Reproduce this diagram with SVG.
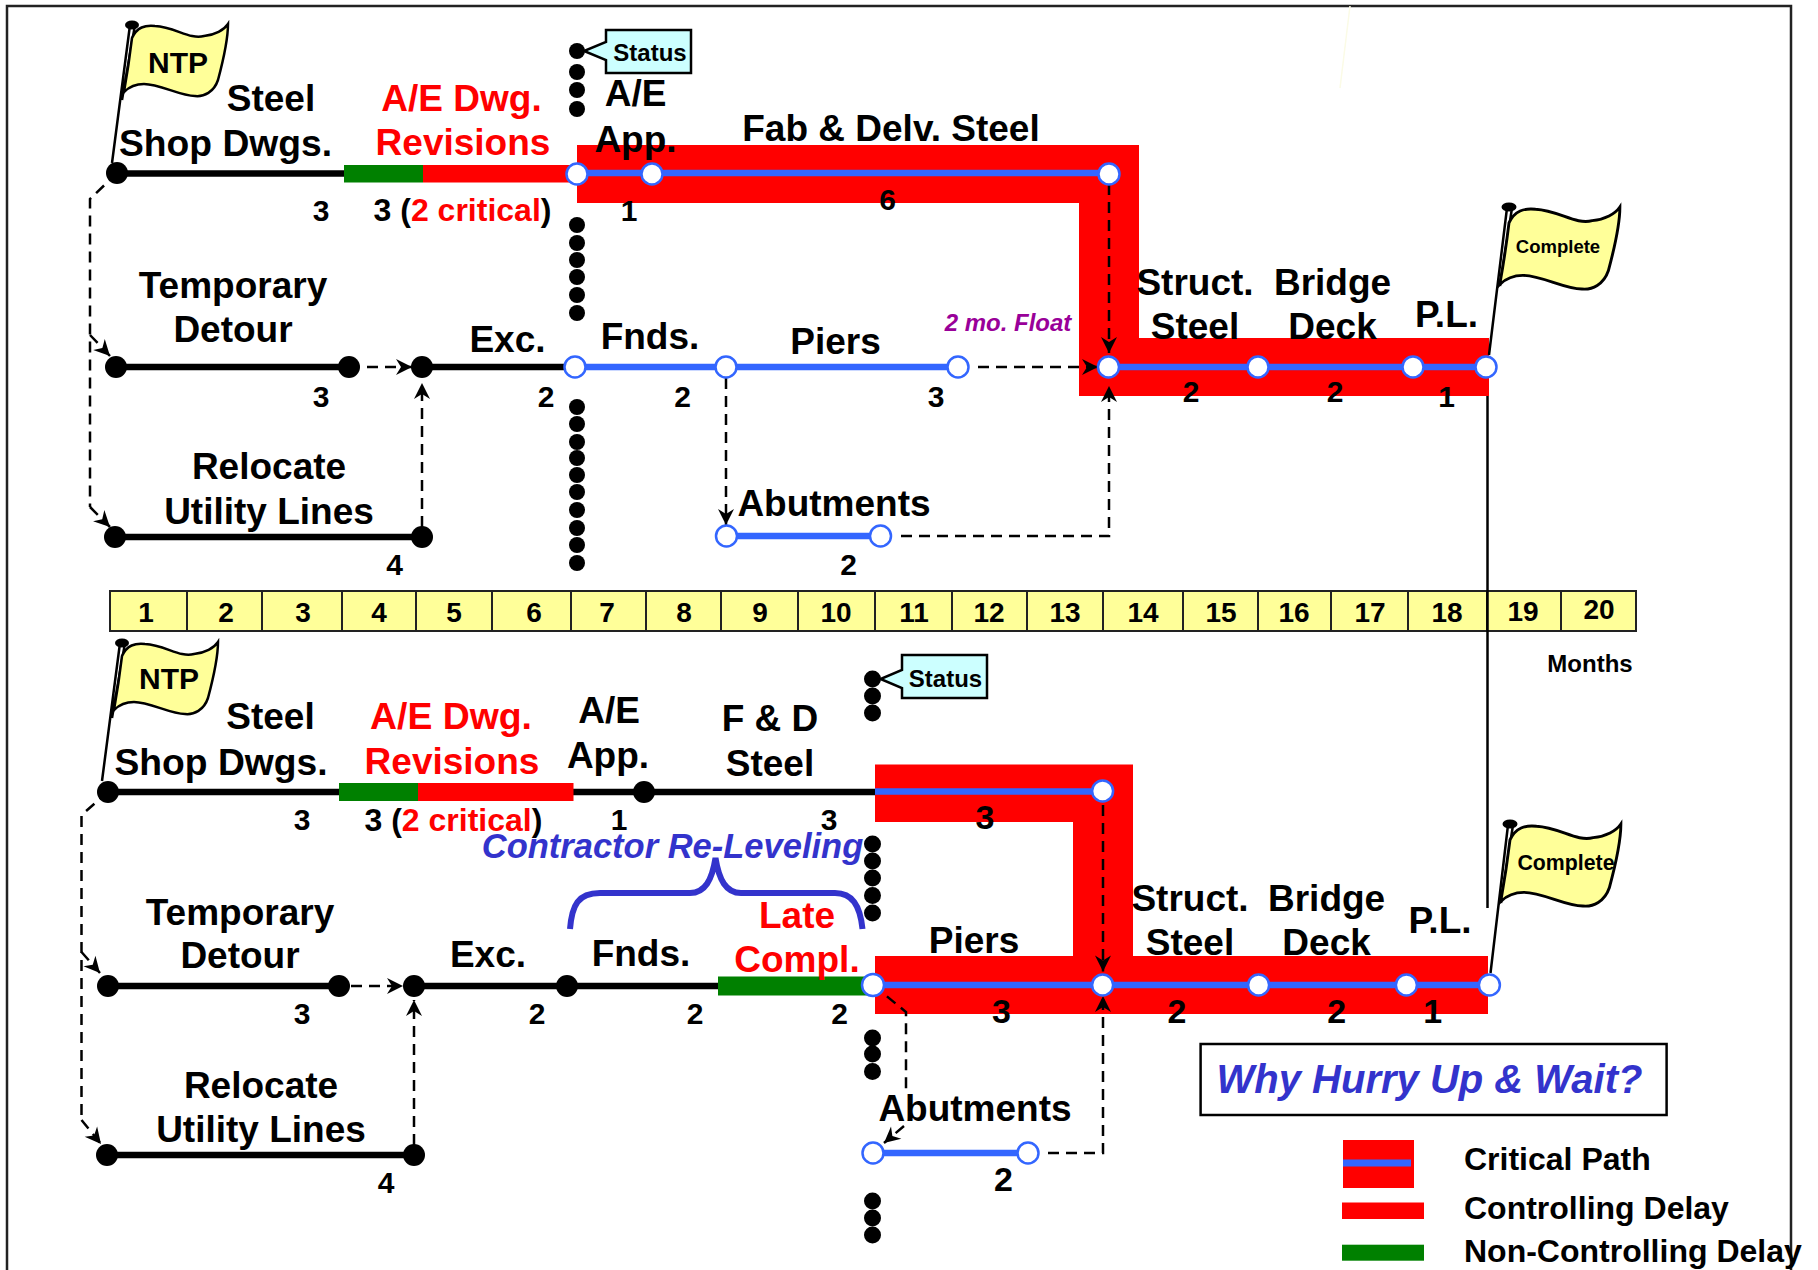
<svg xmlns="http://www.w3.org/2000/svg" xmlns:xlink="http://www.w3.org/1999/xlink" width="1818" height="1270" viewBox="0 0 1818 1270">
<style>
text{font-family:"Liberation Sans",Arial,sans-serif;font-weight:bold;text-anchor:middle;fill:#000}
.l{font-size:37px}.n{font-size:30px}.nl{font-size:34px}.m{font-size:28px}.s{font-size:24px}.c{font-size:32px}
.st{text-anchor:start}
.red,tspan.red{fill:#f00}
.bl{font-style:italic;fill:#3333cc}
.pu{font-style:italic;fill:#990099;font-size:24px}
.blk{stroke:#000;stroke-width:6.5;fill:none}
.blu{stroke:#3366ff;stroke-width:6.5;fill:none}
.nb{fill:#000;stroke:none}
.nw{fill:#fff;stroke:#3366ff;stroke-width:2.5}
.dash{fill:none;stroke:#000;stroke-width:2.5;stroke-dasharray:11 7}
.arr{marker-end:url(#ah)}
.call{fill:#ccffff;stroke:#000;stroke-width:2.5}
.flag{fill:#ffff99;stroke:#000;stroke-width:2.5}
.dot{fill:#000}
.cell{fill:#ffff99;stroke:#222;stroke-width:2}
</style>
<defs>
<marker id="ah" markerUnits="userSpaceOnUse" markerWidth="20" markerHeight="20" refX="17" refY="10" orient="auto" overflow="visible"><path d="M1,2 L17,10 L1,18 L6,10 Z" fill="#000"/></marker>
<path id="flagshape" d="M132,38 C137,27 145,25 155,26 C175,27 190,40 204,36 C215,35 224,30 228,24 C228,40 222,65 218,80 C214,92 204,97 195,96 C180,96 160,84 144,84 C134,84 128,88 124,92 C127,75 130,55 132,38 Z"/>
<g id="ntppole"><path d="M130,25 L112,163 M135,25 L122,100" fill="none" stroke="#000" stroke-width="2.5"/><ellipse cx="132" cy="25" rx="7" ry="4.5" fill="#000"/></g>
</defs>
<rect width="1818" height="1270" fill="#fff"/>
<path d="M7,1270 V6 H1791 V1270" fill="none" stroke="#222" stroke-width="2.5"/>
<path d="M1350,6 L1340,88" stroke="#fbfbe6" stroke-width="1.5" fill="none"/>

<g id="critical-bands">
<polygon points="577,145 1139,145 1139,338 1489,338 1489,396 1079,396 1079,203 577,203" fill="#f00"/>
<polygon points="875,764.5 1133,764.5 1133,956 1488,956 1488,1014 875,1014 875,956 1073,956 1073,822 875,822" fill="#f00"/>
</g>

<g id="months">
<rect x="110" y="591" width="1526" height="40" class="cell"/>
<path d="M187,591V631M262,591V631M342,591V631M416,591V631M492,591V631M571,591V631M646,591V631M721,591V631M798,591V631M875,591V631M952,591V631M1027,591V631M1103,591V631M1183,591V631M1258,591V631M1331,591V631M1408,591V631M1487,591V631M1561,591V631" stroke="#222" stroke-width="2" fill="none"/>
<g class="m"><text x="146" y="622">1</text><text x="226" y="622">2</text><text x="303" y="622">3</text><text x="379" y="622">4</text><text x="454" y="622">5</text><text x="534" y="622">6</text><text x="607" y="622">7</text><text x="684" y="622">8</text><text x="760" y="622">9</text><text x="836" y="622">10</text><text x="914" y="622">11</text><text x="989" y="622">12</text><text x="1065" y="622">13</text><text x="1143" y="622">14</text><text x="1221" y="622">15</text><text x="1294" y="622">16</text><text x="1370" y="622">17</text><text x="1447" y="622">18</text><text x="1523" y="621">19</text><text x="1599" y="619">20</text></g>
<text x="1590" y="672" class="s">Months</text>
</g>

<g id="connectors">
<line x1="1487.5" y1="396" x2="1487.5" y2="908" stroke="#000" stroke-width="2.5"/>
<path class="blk" d="M117,173.500H344"/>
<rect x="344" y="165" width="79" height="17.500" fill="#008000"/><rect x="423" y="165" width="154" height="17.500" fill="#f00"/>
<path class="blu" d="M577,173H1109"/>
<path class="blk" d="M116,367H349M422,367H575"/>
<path class="blu" d="M575,367H958M1108,367H1486"/>
<path class="blk" d="M115,537H422"/>
<path class="blu" d="M726,536H880"/>
<path class="dash" d="M117,173L90,199V507"/>
<path class="dash arr" d="M90,335L110,356"/>
<path class="dash arr" d="M90,507L110,527"/>
<path class="dash arr" d="M367,367H412"/>
<path class="dash arr" d="M422,527V383"/>
<path class="dash arr" d="M726,378V525"/>
<path class="dash arr" d="M901,536H1109V386"/>
<path class="dash arr" d="M1109,184V353"/>
<path class="dash arr" d="M978,367H1098"/>

<path class="blk" d="M108,792H875"/>
<rect x="339" y="783" width="79" height="18" fill="#008000"/><rect x="418" y="783" width="155.500" height="18" fill="#f00"/>
<path class="blu" d="M875,791.500H1103"/>
<path class="blk" d="M108,986H339M414,986H718"/>
<rect x="718" y="976.500" width="155" height="19" fill="#008000"/>
<path class="blu" d="M873,985H1489"/>
<path class="blk" d="M107,1155H414"/>
<path class="blu" d="M873,1153H1028"/>
<path class="dash" d="M108,792L81.500,815V1120"/>
<path class="dash arr" d="M81.500,952L100,973"/>
<path class="dash arr" d="M81.500,1120L101,1144"/>
<path class="dash arr" d="M351,986H403"/>
<path class="dash arr" d="M414,1145V1000"/>
<path class="dash arr" d="M1103,805V971.500"/>
<path class="dash arr" d="M1048,1153H1103V996"/>
<path class="dash" d="M873,985L906,1012V1090"/>
<path class="dash arr" d="M904,1126L884,1143"/>
<path d="M570,929C572,905 578,893 600,893H690C705,893 712,880 715.500,858C719,880 726,893 741,893H835C852,893 860,905 862.500,929" fill="none" stroke="#3333cc" stroke-width="6"/>
</g>

<g id="status-line-1" class="dot">
<circle cx="577" cy="51" r="8"/><circle cx="577" cy="72" r="8"/><circle cx="577" cy="90" r="8"/><circle cx="577" cy="109" r="8"/>
<circle cx="577" cy="225" r="8"/><circle cx="577" cy="243" r="8"/><circle cx="577" cy="260" r="8"/><circle cx="577" cy="277" r="8"/><circle cx="577" cy="295" r="8"/><circle cx="577" cy="313" r="8"/>
<circle cx="577" cy="407" r="8"/><circle cx="577" cy="424" r="8"/><circle cx="577" cy="442" r="8"/><circle cx="577" cy="458" r="8"/><circle cx="577" cy="475" r="8"/><circle cx="577" cy="492" r="8"/><circle cx="577" cy="510" r="8"/><circle cx="577" cy="528" r="8"/><circle cx="577" cy="545" r="8"/><circle cx="577" cy="563" r="8"/>
</g>
<g id="status-line-2" class="dot">
<circle cx="872.500" cy="679" r="8.500"/><circle cx="872.500" cy="696" r="8.500"/><circle cx="872.500" cy="713" r="8.500"/>
<circle cx="872.500" cy="844" r="8.500"/><circle cx="872.500" cy="861" r="8.500"/><circle cx="872.500" cy="878" r="8.500"/><circle cx="872.500" cy="895.500" r="8.500"/><circle cx="872.500" cy="913" r="8.500"/>
<circle cx="872.500" cy="1038" r="8.500"/><circle cx="872.500" cy="1054" r="8.500"/><circle cx="872.500" cy="1071.500" r="8.500"/>
<circle cx="872.500" cy="1201" r="8.500"/><circle cx="872.500" cy="1218" r="8.500"/><circle cx="872.500" cy="1235" r="8.500"/>
</g>

<g id="status-1"><polygon class="call" points="606,30 691,30 691,73 606,73 606,60 584,51 606,42"/><text x="650" y="60.500" class="s">Status</text></g>
<g id="status-2"><polygon class="call" points="902,655 987,655 987,698 902,698 902,688 880.500,679 902,670"/><text x="945.500" y="687" class="s">Status</text></g>

<g id="flag-ntp-1"><use xlink:href="#ntppole" href="#ntppole"/><use xlink:href="#flagshape" href="#flagshape" class="flag"/><text x="178" y="73" style="font-size:30px">NTP</text></g>
<g id="flag-ntp-2"><use xlink:href="#ntppole" href="#ntppole" transform="translate(-10,618)"/><use xlink:href="#flagshape" href="#flagshape" class="flag" transform="translate(-10,618)"/><text x="169" y="689" style="font-size:30px">NTP</text></g>
<g id="flag-complete-1"><path d="M1507,208L1489,355M1512,208L1500,286" fill="none" stroke="#000" stroke-width="2.500"/><ellipse cx="1509" cy="207" rx="7.500" ry="4.500"/><use xlink:href="#flagshape" href="#flagshape" class="flag" transform="translate(1509,207) scale(1.155,1.139) translate(-132,-24)"/><text x="1558" y="253" style="font-size:18.500px">Complete</text></g>
<g id="flag-complete-2"><path d="M1508,825L1490.500,973M1513,825L1501,903" fill="none" stroke="#000" stroke-width="2.500"/><ellipse cx="1510" cy="824" rx="7.500" ry="4.500"/><use xlink:href="#flagshape" href="#flagshape" class="flag" transform="translate(1510,824) scale(1.155,1.139) translate(-132,-24)"/><text x="1566" y="870" style="font-size:21.300px">Complete</text></g>

<g id="top-shop-dwgs"><circle class="nb" cx="117" cy="173" r="11"/><text class="l" x="271" y="111">Steel</text><text class="l" x="225.500" y="156" textLength="213" lengthAdjust="spacingAndGlyphs">Shop Dwgs.</text><text class="n" x="321" y="221">3</text></g>
<g id="top-revisions"><circle class="nw" cx="577" cy="174" r="10.500"/><text class="l red" x="461.500" y="111">A/E Dwg.</text><text class="l red" x="463" y="155">Revisions</text><text class="c" x="462.500" y="221">3 (<tspan class="red">2 critical</tspan>)</text></g>
<g id="top-ae-app"><circle class="nw" cx="652" cy="174" r="10.500"/><text class="l" x="635.500" y="106">A/E</text><text class="l" x="635.500" y="152">App.</text><text class="n" x="629" y="221">1</text></g>
<g id="top-fab"><circle class="nw" cx="1109" cy="174" r="10.500"/><text class="l" x="891" y="141">Fab &amp; Delv. Steel</text><text class="n" x="887.500" y="210">6</text></g>
<g id="top-detour"><circle class="nb" cx="116" cy="367" r="11"/><circle class="nb" cx="349" cy="367" r="11"/><text class="l" x="233" y="298">Temporary</text><text class="l" x="233" y="342">Detour</text><text class="n" x="321" y="407">3</text></g>
<g id="top-exc"><circle class="nb" cx="422" cy="367" r="11"/><text class="l" x="507.500" y="352">Exc.</text><text class="n" x="546" y="407">2</text></g>
<g id="top-fnds"><circle class="nw" cx="575" cy="367" r="10.500"/><text class="l" x="650" y="349">Fnds.</text><text class="n" x="682.500" y="407">2</text></g>
<g id="top-piers"><circle class="nw" cx="726" cy="367" r="10.500"/><circle class="nw" cx="958" cy="367" r="10.500"/><text class="l" x="835.500" y="354">Piers</text><text class="n" x="936" y="407">3</text><text class="pu" x="1008" y="331">2 mo. Float</text></g>
<g id="top-struct"><circle class="nw" cx="1108.500" cy="367" r="10.500"/><text class="l" x="1195" y="295">Struct.</text><text class="l" x="1195" y="339">Steel</text><text class="n" x="1191" y="402">2</text></g>
<g id="top-bridge"><circle class="nw" cx="1258" cy="367" r="10.500"/><text class="l" x="1332.500" y="295">Bridge</text><text class="l" x="1332.500" y="339">Deck</text><text class="n" x="1335" y="402">2</text></g>
<g id="top-pl"><circle class="nw" cx="1413" cy="367" r="10.500"/><circle class="nw" cx="1486" cy="367" r="10.500"/><text class="l" x="1446.500" y="326.500">P.L.</text><text class="n" x="1446.500" y="407">1</text></g>
<g id="top-utility"><circle class="nb" cx="115" cy="537" r="11"/><circle class="nb" cx="422" cy="537" r="11"/><text class="l" x="269" y="479">Relocate</text><text class="l" x="269" y="523.500">Utility Lines</text><text class="n" x="394.500" y="575">4</text></g>
<g id="top-abutments"><circle class="nw" cx="726.500" cy="536" r="10.500"/><circle class="nw" cx="880.500" cy="536" r="10.500"/><text class="l" x="834" y="516">Abutments</text><text class="n" x="848.500" y="575">2</text></g>

<g id="bot-shop-dwgs"><circle class="nb" cx="108" cy="792" r="11"/><text class="l" x="270.500" y="729">Steel</text><text class="l" x="221" y="775" textLength="213" lengthAdjust="spacingAndGlyphs">Shop Dwgs.</text><text class="n" x="302" y="830">3</text></g>
<g id="bot-revisions"><text class="l red" x="451" y="729" textLength="162" lengthAdjust="spacingAndGlyphs">A/E Dwg.</text><text class="l red" x="452" y="774">Revisions</text><text class="c" x="453.400" y="831">3 (<tspan class="red">2 critical</tspan>)</text></g>
<g id="bot-ae-app"><circle class="nb" cx="644" cy="792" r="11"/><text class="l" x="609" y="723">A/E</text><text class="l" x="608" y="768">App.</text><text class="n" x="619" y="830">1</text></g>
<g id="bot-fd"><circle class="nw" cx="1102.600" cy="791" r="10.500"/><text class="l" x="770" y="731">F &amp; D</text><text class="l" x="770" y="775.500">Steel</text><text class="n" x="829" y="830">3</text><text class="nl" x="985" y="829">3</text></g>
<g id="bot-releveling"><text class="bl" x="672.500" y="857.500" style="font-size:34.500px">Contractor Re-Leveling</text></g>
<g id="bot-late"><text class="l red" x="797" y="928">Late</text><text class="l red" x="797" y="972">Compl.</text><text class="n" x="839.500" y="1024">2</text></g>
<g id="bot-detour"><circle class="nb" cx="108" cy="986" r="11"/><circle class="nb" cx="339" cy="986" r="11"/><text class="l" x="240" y="925">Temporary</text><text class="l" x="240" y="968">Detour</text><text class="n" x="302" y="1024">3</text></g>
<g id="bot-exc"><circle class="nb" cx="414" cy="986" r="11"/><text class="l" x="488" y="967">Exc.</text><text class="n" x="537" y="1024">2</text></g>
<g id="bot-fnds"><circle class="nb" cx="567" cy="986" r="11"/><text class="l" x="641" y="966">Fnds.</text><text class="n" x="695" y="1024">2</text></g>
<g id="bot-piers"><circle class="nw" cx="873" cy="985" r="11"/><text class="l" x="974" y="952.500">Piers</text><text class="nl" x="1001.500" y="1023">3</text></g>
<g id="bot-struct"><circle class="nw" cx="1102.600" cy="985" r="10.500"/><text class="l" x="1190" y="911">Struct.</text><text class="l" x="1190" y="955">Steel</text><text class="nl" x="1177" y="1023">2</text></g>
<g id="bot-bridge"><circle class="nw" cx="1258.600" cy="985" r="10.500"/><text class="l" x="1326.600" y="911">Bridge</text><text class="l" x="1326.600" y="955">Deck</text><text class="nl" x="1336.600" y="1023">2</text></g>
<g id="bot-pl"><circle class="nw" cx="1406.400" cy="985" r="10.500"/><circle class="nw" cx="1489.400" cy="985" r="10.500"/><text class="l" x="1440" y="933">P.L.</text><text class="nl" x="1432.600" y="1023">1</text></g>
<g id="bot-utility"><circle class="nb" cx="107" cy="1155" r="11"/><circle class="nb" cx="414" cy="1155" r="11"/><text class="l" x="261" y="1098">Relocate</text><text class="l" x="261" y="1142">Utility Lines</text><text class="n" x="386" y="1193">4</text></g>
<g id="bot-abutments"><circle class="nw" cx="873" cy="1153" r="10.500"/><circle class="nw" cx="1028" cy="1153" r="10.500"/><text class="l" x="975" y="1121">Abutments</text><text class="nl" x="1003.400" y="1191">2</text></g>

<g id="callout-why"><rect x="1200.600" y="1044" width="466" height="71" fill="#fff" stroke="#000" stroke-width="2.500"/><text class="bl" x="1429.500" y="1093" style="font-size:40px">Why Hurry Up &amp; Wait?</text></g>

<g id="legend">
<rect x="1343" y="1140" width="71" height="48" fill="#f00"/><rect x="1343" y="1159.500" width="68" height="7" fill="#3366ff"/>
<rect x="1342" y="1202.500" width="82" height="16.500" fill="#f00"/>
<rect x="1342" y="1244.700" width="82" height="16" fill="#008000"/>
<text class="c st" x="1464" y="1170">Critical Path</text>
<text class="c st" x="1464" y="1218.500">Controlling Delay</text>
<text class="c st" x="1464" y="1262">Non-Controlling Delay</text>
</g>
</svg>
